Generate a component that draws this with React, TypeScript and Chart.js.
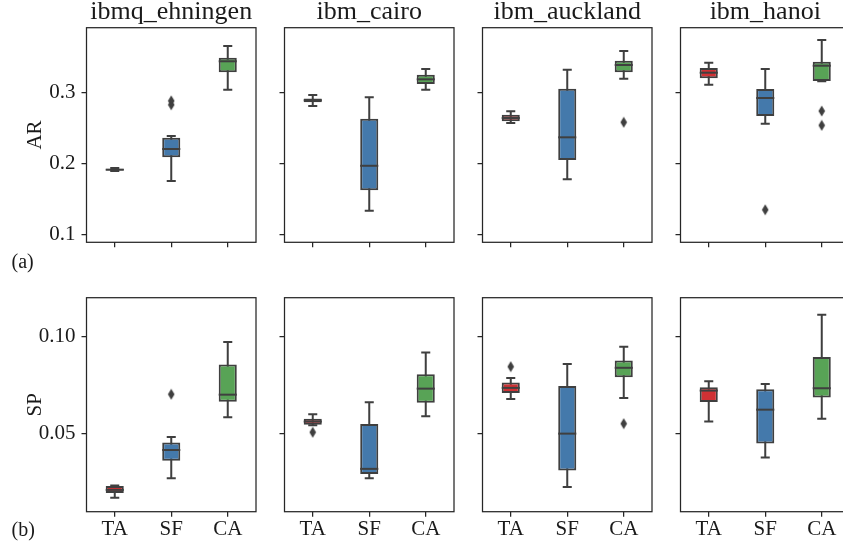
import React, { useEffect, useRef } from 'react';
import { Chart, registerables } from 'chart.js';

Chart.register(...registerables);

const categories = ['TA', 'SF', 'CA'];
const devices = ['ibmq_ehningen', 'ibm_cairo', 'ibm_auckland', 'ibm_hanoi'];
const metricNames = ['AR', 'SP'];
const panelTags = ['(a)', '(b)'];
const boxColors = ['#cf3134', '#4479ab', '#58a356'];

// five-number summaries [min, q1, median, q3, max] for TA, SF, CA
const arEhningen = [[0.1895, 0.1905, 0.1915, 0.1928, 0.194], [0.1756, 0.2088, 0.2205, 0.2363, 0.2387], [0.3036, 0.328, 0.3435, 0.3485, 0.365]];
const arCairo = [[0.2808, 0.2862, 0.2888, 0.2912, 0.2962], [0.134, 0.1626, 0.197, 0.263, 0.293], [0.3036, 0.3116, 0.3182, 0.3247, 0.3327]];
const arAuckland = [[0.257, 0.2595, 0.264, 0.2685, 0.2734], [0.178, 0.205, 0.2369, 0.305, 0.3317], [0.319, 0.328, 0.3383, 0.3443, 0.358]];
const arHanoi = [[0.3107, 0.3196, 0.3275, 0.334, 0.3415], [0.256, 0.2668, 0.292, 0.3046, 0.3327], [0.3155, 0.3158, 0.3373, 0.343, 0.3733]];

const spEhningen = [[0.017, 0.0195, 0.0211, 0.0231, 0.0233], [0.0271, 0.0361, 0.0416, 0.0454, 0.0483], [0.0584, 0.0664, 0.07, 0.0855, 0.097]];
const spCairo = [[0.0543, 0.0545, 0.0562, 0.0576, 0.06], [0.0271, 0.0293, 0.0319, 0.055, 0.0661], [0.0589, 0.0659, 0.0731, 0.0805, 0.0916]];
const spAuckland = [[0.0678, 0.0708, 0.0735, 0.0762, 0.0786], [0.0226, 0.031, 0.05, 0.0744, 0.0857], [0.0683, 0.079, 0.0838, 0.0875, 0.0946]];
const spHanoi = [[0.0562, 0.0663, 0.0721, 0.0738, 0.0769], [0.0377, 0.0449, 0.0623, 0.0728, 0.0755], [0.0576, 0.0685, 0.0733, 0.0894, 0.1111]];

// outliers per category (TA, SF, CA)
const arEhningenOut = [[], [0.2825, 0.288], []];
const arCairoOut = [[], [], []];
const arAucklandOut = [[], [], [0.258]];
const arHanoiOut = [[], [0.1353], [0.2738, 0.2537]];
const spEhningenOut = [[], [0.0702], []];
const spCairoOut = [[0.0507], [], []];
const spAucklandOut = [[0.0844], [], [0.0551]];
const spHanoiOut = [[], [], []];

const arTicks = [0.1, 0.2, 0.3];
const arTickLabels = ['0.1', '0.2', '0.3'];
const spTicks = [0.05, 0.1];
const spTickLabels = ['0.05', '0.10'];
const arRange = [0.0897, 0.3906];
const spRange = [0.0099, 0.1198];

const statsGrid = [
  [arEhningen, arCairo, arAuckland, arHanoi],
  [spEhningen, spCairo, spAuckland, spHanoi],
];
const outGrid = [
  [arEhningenOut, arCairoOut, arAucklandOut, arHanoiOut],
  [spEhningenOut, spCairoOut, spAucklandOut, spHanoiOut],
];
const tickGrid = [arTicks, spTicks];
const tickLabelGrid = [arTickLabels, spTickLabels];
const rangeGrid = [arRange, spRange];

const LINE = '#3f3f3f';
const FRAME = '#262626';
const TEXT = '#1a1a1a';
const FONT = "'Liberation Serif', 'Times New Roman', serif";

const boxPlugin = {
  id: 'boxWhisker',
  beforeDatasetsDraw(chart: any, _args: any, opts: any) {
    const { ctx, scales } = chart;
    const x = scales.x, y = scales.y;
    const meta = chart.getDatasetMeta(1);
    ctx.save();
    ctx.strokeStyle = LINE;
    ctx.lineWidth = 2;
    opts.stats.forEach((s: number[], i: number) => {
      const cx = x.getPixelForValue(i);
      const w = meta.data[i].width;
      const yMin = y.getPixelForValue(s[0]);
      const yMax = y.getPixelForValue(s[4]);
      ctx.beginPath();
      ctx.moveTo(cx, yMin);
      ctx.lineTo(cx, yMax);
      ctx.moveTo(cx - w / 4, yMin);
      ctx.lineTo(cx + w / 4, yMin);
      ctx.moveTo(cx - w / 4, yMax);
      ctx.lineTo(cx + w / 4, yMax);
      ctx.stroke();
    });
    ctx.restore();
  },
  afterDatasetsDraw(chart: any, _args: any, opts: any) {
    const { ctx, scales, chartArea } = chart;
    const x = scales.x, y = scales.y;
    const meta = chart.getDatasetMeta(1);
    ctx.save();
    ctx.strokeStyle = LINE;
    ctx.lineWidth = 2;
    opts.stats.forEach((s: number[], i: number) => {
      const cx = x.getPixelForValue(i);
      const w = meta.data[i].width;
      const ym = y.getPixelForValue(s[2]);
      ctx.beginPath();
      ctx.moveTo(cx - w / 2, ym);
      ctx.lineTo(cx + w / 2, ym);
      ctx.stroke();
    });
    ctx.strokeStyle = FRAME;
    ctx.lineWidth = 1.25;
    ctx.strokeRect(chartArea.left, chartArea.top, chartArea.right - chartArea.left, chartArea.bottom - chartArea.top);
    ctx.restore();
  },
};

const PANEL_W = 169.5;
const LEFT_AXIS = 86.5;
const CANVAS_W = 258;
const colLefts = [0, 198, 396, 594];
const rowTops = [0, 280];
const rowHeights = [280, 272];

function Panel({ row, col }: { row: number; col: number }) {
  const ref = useRef<HTMLCanvasElement>(null);
  useEffect(() => {
    const stats = statsGrid[row][col];
    const outs = outGrid[row][col];
    const ticks = tickGrid[row];
    const tickLabels = tickLabelGrid[row];
    const range = rangeGrid[row];

    const diamond = document.createElement('canvas');
    diamond.width = 8;
    diamond.height = 12;
    const dc = diamond.getContext('2d')!;
    dc.fillStyle = LINE;
    dc.beginPath();
    dc.moveTo(4, 0.5);
    dc.lineTo(7.3, 6);
    dc.lineTo(4, 11.5);
    dc.lineTo(0.7, 6);
    dc.closePath();
    dc.fill();

    const outPts: { x: string; y: number }[] = [];
    outs.forEach((arr, i) => arr.forEach((v) => outPts.push({ x: categories[i], y: v })));

    const chart = new Chart(ref.current!, {
      type: 'bar',
      data: {
        labels: categories,
        datasets: [
          {
            type: 'line',
            data: outPts as any,
            showLine: false,
            pointStyle: diamond as any,
            pointRadius: 0.5,
            pointHoverRadius: 0.5,
            pointBorderWidth: 0,
            borderWidth: 0,
            order: 0,
          } as any,
          {
            type: 'bar',
            data: stats.map((s) => [s[1], s[3]]) as any,
            backgroundColor: boxColors,
            borderColor: LINE,
            borderWidth: 2,
            borderSkipped: false,
            barPercentage: 0.32,
            categoryPercentage: 1,
            order: 1,
          } as any,
        ],
      },
      plugins: [boxPlugin as any],
      options: {
        responsive: false,
        animation: false,
        devicePixelRatio: 1,
        layout: { padding: { top: row === 0 ? 0 : 17.7, right: CANVAS_W - LEFT_AXIS - PANEL_W, left: 0, bottom: 0 } },
        plugins: {
          legend: { display: false },
          tooltip: { enabled: false },
          title: {
            display: row === 0,
            text: devices[col],
            color: TEXT,
            fullSize: false,
            font: { family: FONT, size: 26, weight: 'normal', lineHeight: 1 },
            padding: { top: -1, bottom: 2.7 },
          },
          boxWhisker: { stats },
        } as any,
        scales: {
          x: {
            type: 'category',
            offset: true,
            grid: { display: true, drawOnChartArea: false, drawTicks: true, tickLength: 5, color: FRAME, lineWidth: 1.25, offset: false },
            border: { display: false },
            ticks: { display: row === 1, color: TEXT, padding: 0, font: { family: FONT, size: 21, lineHeight: 1.2 } },
            afterFit: (s: any) => { s.height = row === 0 ? 37.7 : 40.3; },
          },
          y: {
            type: 'linear',
            min: range[0],
            max: range[1],
            grid: { display: true, drawOnChartArea: false, drawTicks: true, tickLength: 5, color: FRAME, lineWidth: 1.25 },
            border: { display: false },
            afterBuildTicks: (s: any) => { s.ticks = ticks.map((v) => ({ value: v })); },
            ticks: {
              display: col === 0,
              color: TEXT,
              padding: 6,
              font: { family: FONT, size: 21, lineHeight: 1.05 },
              callback: (v: any) => {
                const i = ticks.findIndex((t) => Math.abs(t - Number(v)) < 1e-9);
                return i >= 0 ? tickLabels[i] : '';
              },
            },
            title: {
              display: col === 0,
              text: metricNames[row],
              color: TEXT,
              font: { family: FONT, size: 21, lineHeight: 1.2 },
              padding: { top: 22.4, bottom: 0 },
            },
            afterFit: (s: any) => { s.width = LEFT_AXIS; },
          },
        },
      } as any,
    });
    return () => chart.destroy();
  }, [row, col]);

  return (
    <canvas
      ref={ref}
      width={CANVAS_W}
      height={rowHeights[row]}
      style={{ position: 'absolute', left: colLefts[col], top: rowTops[row], width: CANVAS_W, height: rowHeights[row], display: 'block' }}
    />
  );
}

export default function App() {
  const panels = [];
  for (let r = 0; r < 2; r++) for (let c = 0; c < 4; c++) panels.push(<Panel key={`${r}-${c}`} row={r} col={c} />);
  return (
    <div style={{ position: 'absolute', left: 0, top: 0, width: 843, height: 552, overflow: 'hidden', background: '#fff' }}>
      {panels}
      {panelTags.map((t, i) => (
        <div
          key={t}
          style={{ position: 'absolute', left: 11.5, top: i === 0 ? 251.4 : 519.4, fontFamily: FONT, fontSize: 20, lineHeight: '20px', color: TEXT, whiteSpace: 'nowrap' }}
        >
          {t}
        </div>
      ))}
    </div>
  );
}
